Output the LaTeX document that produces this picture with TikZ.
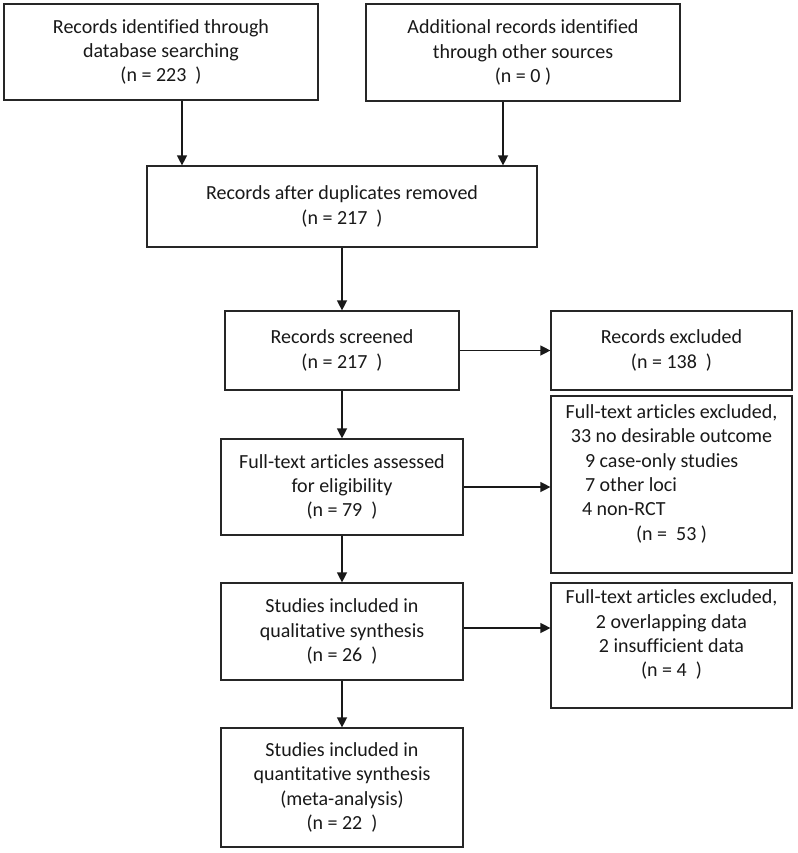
\documentclass[tikz,border=0pt]{standalone}
\usepackage{fontspec}
\setmainfont{Carlito}[Ligatures=NoCommon]
\usetikzlibrary{arrows.meta}
\begin{document}
\begin{tikzpicture}[x=1pt,y=-1pt,
  box/.style={draw=black!85, line width=1.2pt, align=center, inner sep=2pt,
    font=\fontsize{20}{24.4}\selectfont, text=black!90},
  arr/.style={draw=black!90, line width=1.3pt, -{Triangle[length=10pt,width=10pt]}}]
\useasboundingbox (0,0) rectangle (797,853);
\fill[white] (0,0) rectangle (797,853);

\node[box, minimum width=314pt, minimum height=96pt] (A) at (161,52)
  {Records identified through\\database searching\\(n = 223~~)};
\node[box, minimum width=314pt, minimum height=97pt] (B) at (523,52.5)
  {Additional records identified\\through other sources\\(n = 0 )};
\node[box, minimum width=390pt, minimum height=81pt] (C) at (342,206.5)
  {Records after duplicates removed\\(n = 217~~)};
\node[box, minimum width=234pt, minimum height=79pt] (D) at (342,350.5)
  {Records screened\\(n = 217~~)};
\node[box, minimum width=241pt, minimum height=79pt] (E) at (671.5,350.5)
  {Records excluded\\(n = 138~~)};
\node[box, minimum width=242pt, minimum height=96pt] (F) at (342,487)
  {Full-text articles assessed\\for eligibility\\(n = 79~~)};
\node[box, minimum width=241pt, minimum height=177pt] (G) at (671.5,484.5)
  {Full-text articles excluded,\\33 no desirable outcome\\
   \makebox[173pt][l]{9 case-only studies}\\
   \makebox[173pt][l]{7 other loci}\\
   \makebox[173pt][l]{\hspace{-3pt}4 non-RCT}\\
   (n =~~53 )\hspace*{12pt}\\~};
\node[box, minimum width=242pt, minimum height=97pt] (H) at (342,631.5)
  {Studies included in\\qualitative synthesis\\(n = 26~~)};
\node[box, minimum width=241pt, minimum height=125pt] (I) at (671.5,645.5)
  {Full-text articles excluded,\\2 overlapping data\\2 insufficient data\\(n = 4~~)\\~};
\node[box, minimum width=242pt, minimum height=119pt] (J) at (342,787.5)
  {Studies included in\\quantitative synthesis\\(meta-analysis)\\(n = 22~~)};

\coordinate (ax) at (182,0);
\coordinate (bx) at (503,0);
\coordinate (fy) at (0,487);
\coordinate (hy) at (0,628);

\draw[arr] (A.south -| ax) -- (C.north -| ax);
\draw[arr] (B.south -| bx) -- (C.north -| bx);
\draw[arr] (C.south) -- (D.north);
\draw[arr] (D.east) -- (E.west);
\draw[arr] (D.south) -- (F.north);
\draw[arr] (F.east |- fy) -- (G.west |- fy);
\draw[arr] (F.south) -- (H.north);
\draw[arr] (H.east |- hy) -- (I.west |- hy);
\draw[arr] (H.south) -- (J.north);
\end{tikzpicture}
\end{document}
